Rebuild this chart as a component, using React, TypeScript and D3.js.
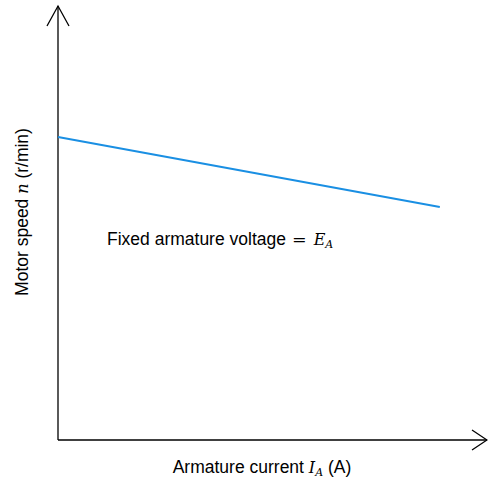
import React from "react";
import * as d3 from "d3";

const currentDomain = [0, 100];
const speedDomain = [0, 100];
const currentValues = [0, 88.8];
const speedValues = [69.8, 53.7];

const W = 488;
const H = 483;

export default function App() {
  const x = d3.scaleLinear().domain(currentDomain).range([58, 488]);
  const y = d3.scaleLinear().domain(speedDomain).range([440, 6]);
  const pts = currentValues.map((c, i) => [c, speedValues[i]] as [number, number]);
  const line = d3
    .line<[number, number]>()
    .x((d) => x(d[0]))
    .y((d) => y(d[1]));
  const x0 = x(0);
  const y0 = y(0);
  const font = "'Liberation Sans', Arial, sans-serif";
  const math = "'DejaVu Serif', 'Liberation Serif', serif";
  const fs = 17.5;
  return (
    <svg
      width={W}
      height={H}
      style={{ position: "absolute", left: 0, top: 0, background: "#fff" }}
    >
      <g stroke="#000" strokeWidth={1.3} fill="none">
        <line x1={x0} y1={y0} x2={x0} y2={y(100)} />
        <polyline points={`${x0 - 11},${y(100) + 20} ${x0},${y(100)} ${x0 + 11},${y(100) + 20}`} />
        <line x1={x0} y1={y0} x2={x(100) - 1} y2={y0} />
        <polyline points={`${x(100) - 16},${y0 - 10} ${x(100) - 1},${y0} ${x(100) - 16},${y0 + 10}`} />
      </g>
      <path d={line(pts) || ""} stroke="#1a8fe3" strokeWidth={2} fill="none" />
      <text x={107} y={245} fontFamily={font} fontSize={fs} fill="#000">
        Fixed armature voltage
        <tspan fontFamily={math} dx={6}>=</tspan>
        <tspan fontFamily={math} fontStyle="italic" dx={7} fontSize={16}>E</tspan>
        <tspan fontFamily={math} fontStyle="italic" fontSize={11} dy={3}>A</tspan>
      </text>
      <text x={262} y={473} textAnchor="middle" fontFamily={font} fontSize={fs} fill="#000">
        Armature current{" "}
        <tspan fontFamily={math} fontStyle="italic" fontSize={16}>I</tspan>
        <tspan fontFamily={math} fontStyle="italic" fontSize={11} dy={3}>A</tspan>
        <tspan dy={-3}> (A)</tspan>
      </text>
      <text
        transform={`translate(28,212) rotate(-90)`}
        textAnchor="middle"
        fontFamily={font}
        fontSize={fs}
        fill="#000"
      >
        Motor speed <tspan fontFamily={math} fontStyle="italic" fontSize={16}>n</tspan> (r/min)
      </text>
    </svg>
  );
}
